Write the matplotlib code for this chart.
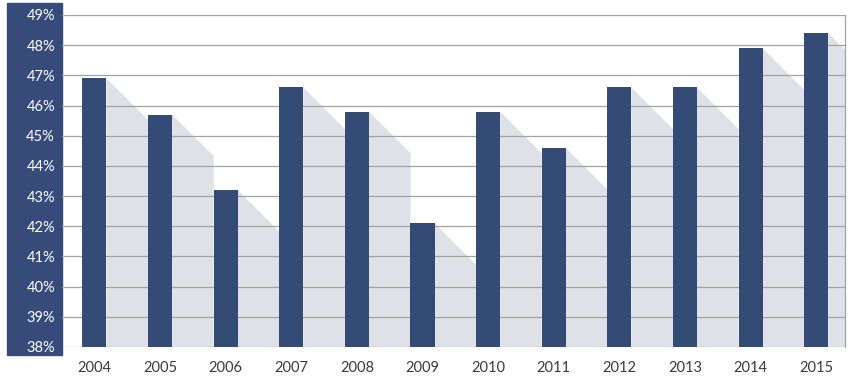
import matplotlib
matplotlib.use("Agg")
import matplotlib.pyplot as plt
from matplotlib.patches import Rectangle, Polygon

years = ["2004", "2005", "2006", "2007", "2008", "2009",
         "2010", "2011", "2012", "2013", "2014", "2015"]
values = [46.9, 45.7, 43.2, 46.6, 45.8, 42.1, 45.8, 44.6, 46.6, 46.6, 47.9, 48.4]
yticks = list(range(38, 50))

navy = "#344b76"
band = "#364b7a"
shade = "#dfe1e8"
grid = "#a3a3a3"

plt.rcParams["font.family"] = ["Lato", "DejaVu Sans"]

W, H = 855, 387
fig = plt.figure(figsize=(W / 100, H / 100), dpi=100)
fig.patch.set_facecolor("white")

# dark band behind the y labels
fig.patches.append(Rectangle((7 / W, 1 - 355 / H), 55 / W, 352 / H,
                             transform=fig.transFigure, color=band, zorder=-1))

ax = fig.add_axes([62 / W, 1 - 347 / H, (845 - 62) / W, (347 - 15) / H])
ax.set_facecolor("none")
xmin, xmax = -0.495, 11.44
ymin, ymax = 38, 49
ax.set_xlim(xmin, xmax)
ax.set_ylim(ymin, ymax)

bw = 0.366
xs = list(range(len(years)))

# 45 degree shadows in pixel space
ax_w = (845 - 62)
ax_h = (347 - 15)
px_x = ax_w / (xmax - xmin)
px_y = ax_h / (ymax - ymin)
for i, v in enumerate(values):
    x0 = xs[i] + bw / 2
    if i + 1 < len(values):
        x1 = xs[i + 1] - bw / 2
    else:
        x1 = xmax + 0.5
    dy = (x1 - x0) * px_x / px_y
    poly = Polygon([(x0, v), (x1, v - dy), (x1, ymin), (x0, ymin)],
                   closed=True, facecolor=shade, edgecolor="none", zorder=1)
    ax.add_patch(poly)

for t in yticks:
    ax.axhline(t, color=grid, lw=0.9, zorder=2)

ax.bar(xs, [v - ymin for v in values], bottom=ymin, width=bw,
       color=navy, zorder=3)

for s in ["top", "left", "bottom"]:
    ax.spines[s].set_visible(False)
ax.spines["right"].set_color(grid)
ax.spines["right"].set_linewidth(0.9)

ax.set_yticks(yticks)
ax.set_yticklabels([f"{t}%" for t in yticks], color="white", fontsize=10.5)
ax.tick_params(axis="y", length=0, pad=5)
ax.set_xticks(xs)
ax.set_xticklabels(years, color="#3a3a3a", fontsize=10.5)
ax.tick_params(axis="x", length=0, pad=10)

fig.savefig("out.png", dpi=100)
